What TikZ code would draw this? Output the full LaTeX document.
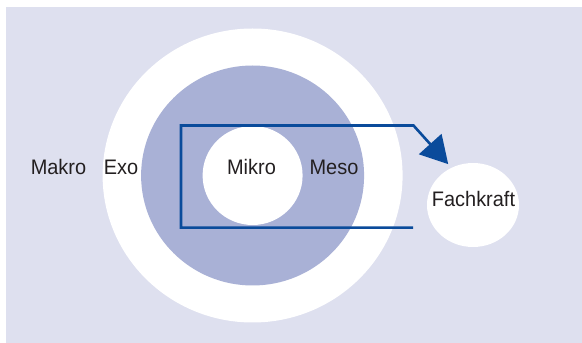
\documentclass[tikz,border=0pt]{standalone}
\usepackage{fontspec}
\setmainfont[FakeStretch=0.95]{Liberation Sans}
\usetikzlibrary{arrows.meta, shapes.geometric, positioning}
\definecolor{backlila}{RGB}{222,224,239}
\definecolor{ringblau}{RGB}{169,177,214}
\definecolor{pfeilblau}{RGB}{10,75,155}
\definecolor{textgrau}{RGB}{35,31,32}

\begin{document}
\begin{tikzpicture}[x=1pt,y=1pt,
    ring node/.style={ellipse,inner sep=0pt,outer sep=0pt,draw=none},
    label node/.style={inner sep=0pt,anchor=base,text=textgrau,font=\fontsize{21}{25}\selectfont},
    flow/.style={draw=pfeilblau,line width=2.6pt,-{Triangle[length=27pt,width=30pt]}}]

        \useasboundingbox (0,0) rectangle (582,343);
        \fill[backlila] (6,0) rectangle (582,336);

        \node[ring node,fill=white,minimum width=300pt,minimum height=294pt] (exo) at (252.6,167.5) {};
        \node[ring node,fill=ringblau,minimum width=223pt,minimum height=220pt] (meso) at (exo) {};
        \node[ring node,fill=white,minimum width=100pt,minimum height=99pt] (mikro) at (exo) {};
        \node[ring node,fill=white,minimum width=92pt,minimum height=84pt] (fach) at (473,138) {};

        \node[label node] (makrolabel) at (58.5,168) {Makro};
        \node[label node] (exolabel)   at (121,168)  {Exo};
        \node[label node] (mikrolabel) at (251.5,168) {Mikro};
        \node[label node] (mesolabel)  at (334,168)  {Meso};
        \node[label node] (fachlabel)  at (473.5,136) {Fachkraft};

        \coordinate (start) at (413,115.3);
        \coordinate (ecke)  at (181,217.5);
        \coordinate (knick) at (413.5,217.5);

          \draw[flow,shorten >=5pt] (start) -| (ecke) -- (knick) -- (fach.120);
        \end{tikzpicture}
\end{document}
